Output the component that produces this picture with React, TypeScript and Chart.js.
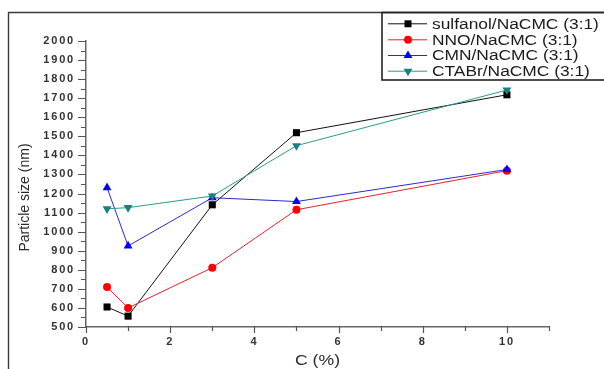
import React, { useEffect, useRef } from 'react';
import { Chart, registerables } from 'chart.js';

Chart.register(...registerables);

// ---- data ----
const concentrations = [0.5, 1, 3, 5, 10];
const sulfanolValues = [605, 557, 1141, 1519, 1718];
const nnoValues = [710, 600, 811, 1115, 1320];
const cmnValues = [1231, 925, 1178, 1158, 1326];
const ctabrValues = [1120, 1126, 1187, 1451, 1743];

const seriesNames = [
  'sulfanol/NaCMC (3:1)',
  'NNO/NaCMC (3:1)',
  'CMN/NaCMC (3:1)',
  'CTABr/NaCMC (3:1)',
];
const seriesColors = ['#000000', '#ff0000', '#0000ff', '#16827a'];
const lineColors = ['#111111', '#e8202a', '#2a2acc', '#2a9a90'];
const seriesMarkers = ['square', 'circle', 'triUp', 'triDown'];

const xTickLabels = [0, 2, 4, 6, 8, 10];
const yTickLabels = [500, 600, 700, 800, 900, 1000, 1100, 1200, 1300, 1400, 1500, 1600, 1700, 1800, 1900, 2000];
const xTitle = 'C (%)';
const yTitle = 'Particle size (nm)';

const FONT = '"Liberation Sans", Arial, Helvetica, sans-serif';

function drawMarker(ctx: CanvasRenderingContext2D, kind: string, x: number, y: number, color: string) {
  ctx.fillStyle = color;
  ctx.beginPath();
  if (kind === 'square') {
    ctx.rect(x - 3.5, y - 3.5, 7, 7);
  } else if (kind === 'circle') {
    ctx.arc(x, y, 4, 0, Math.PI * 2);
  } else if (kind === 'triUp') {
    const r = 5.1;
    ctx.moveTo(x, y - r);
    ctx.lineTo(x + r * 0.866, y + r * 0.5);
    ctx.lineTo(x - r * 0.866, y + r * 0.5);
    ctx.closePath();
  } else {
    const r = 5.1;
    ctx.moveTo(x, y + r);
    ctx.lineTo(x + r * 0.866, y - r * 0.5);
    ctx.lineTo(x - r * 0.866, y - r * 0.5);
    ctx.closePath();
  }
  ctx.fill();
}

const decorPlugin = {
  id: 'decor',
  beforeDraw(chart: any) {
    (chart.ctx as any).letterSpacing = '1.8px';
  },
  afterDraw(chart: any) {
    const ctx: CanvasRenderingContext2D = chart.ctx;
    (ctx as any).letterSpacing = '0px';
    const xs = chart.scales.x;
    const ys = chart.scales.y;
    const axisX = ys.right;
    const axisY = xs.top;

    ctx.save();
    // tick marks
    ctx.strokeStyle = '#555';
    ctx.lineWidth = 1.2;
    ctx.beginPath();
    for (let v = 500; v <= 2000; v += 50) {
      const py = Math.round(ys.getPixelForValue(v)) + 0.5;
      const len = v % 100 === 0 ? 8 : 5;
      ctx.moveTo(axisX - len, py);
      ctx.lineTo(axisX, py);
    }
    for (let v = 0; v <= 11; v += 1) {
      const px = Math.round(xs.getPixelForValue(v)) + 0.5;
      const len = xTickLabels.includes(v) ? 6 : 4;
      ctx.moveTo(px, axisY - 1);
      ctx.lineTo(px, axisY + len);
    }
    ctx.stroke();

    // axis titles
    ctx.fillStyle = '#2a2a2a';
    ctx.font = `14px ${FONT}`;
    ctx.textAlign = 'center';
    ctx.textBaseline = 'alphabetic';
    ctx.save();
    ctx.translate((xs.left + xs.right) / 2, 365);
    ctx.scale(1.26, 1);
    ctx.fillText(xTitle, 0, 0);
    ctx.restore();

    ctx.save();
    ctx.translate(29, 197.5);
    ctx.rotate(-Math.PI / 2);
    ctx.fillText(yTitle, 0, 0);
    ctx.restore();

    // outer frame
    ctx.strokeStyle = '#3a3a3a';
    ctx.lineWidth = 1.4;
    ctx.beginPath();
    ctx.moveTo(8.5, 369);
    ctx.lineTo(8.5, 12.5);
    ctx.lineTo(604, 12.5);
    ctx.stroke();

    // legend box
    ctx.strokeStyle = '#222';
    ctx.lineWidth = 1.6;
    ctx.strokeRect(382, 12.5, 240, 67.5);

    const rowY = [23.3, 39.3, 55, 70.7];
    seriesNames.forEach((name, i) => {
      const y = rowY[i];
      ctx.strokeStyle = lineColors[i];
      ctx.lineWidth = 1;
      ctx.beginPath();
      ctx.moveTo(388, y + 0.5);
      ctx.lineTo(427, y + 0.5);
      ctx.stroke();
      drawMarker(ctx, seriesMarkers[i], 408, y + 0.5, seriesColors[i]);
      ctx.fillStyle = '#1a1a1a';
      ctx.font = `14px ${FONT}`;
      ctx.textAlign = 'left';
      ctx.textBaseline = 'alphabetic';
      ctx.save();
      ctx.translate(432, y + 5.3);
      ctx.scale(1.24, 1);
      ctx.fillText(name, 0, 0);
      ctx.restore();
    });
    ctx.restore();
  },
};

function toPoints(values: number[]) {
  return concentrations.map((c, i) => ({ x: c, y: values[i] }));
}

export default function App() {
  const canvasRef = useRef<HTMLCanvasElement | null>(null);

  useEffect(() => {
    if (!canvasRef.current) return;
    const valueSets = [sulfanolValues, nnoValues, cmnValues, ctabrValues];
    const pointStyles = ['rect', 'circle', 'triangle', 'triangle'];
    const pointRadii = [5, 4, 5.1, 5.1];
    const rotations = [0, 0, 0, 180];

    const chart = new Chart(canvasRef.current, {
      type: 'line',
      data: {
        datasets: valueSets.map((vals, i) => ({
          label: seriesNames[i],
          data: toPoints(vals),
          borderColor: lineColors[i],
          backgroundColor: seriesColors[i],
          borderWidth: 1,
          pointStyle: pointStyles[i] as any,
          pointRadius: pointRadii[i],
          pointRotation: rotations[i],
          pointBackgroundColor: seriesColors[i],
          pointBorderColor: seriesColors[i],
          pointBorderWidth: 0,
          tension: 0,
          fill: false,
          order: 4 - i,
        })),
      },
      options: {
        animation: false,
        responsive: true,
        maintainAspectRatio: false,
        layout: { padding: { top: 41, right: 55, left: 0, bottom: 0 } },
        plugins: {
          legend: { display: false },
          tooltip: { enabled: false },
          title: { display: false },
        },
        scales: {
          x: {
            type: 'linear',
            min: 0,
            max: 11,
            afterFit: (s: any) => {
              s.height = 42;
            },
            afterBuildTicks: (s: any) => {
              const t = [];
              for (let v = 0; v <= 11; v++) t.push({ value: v });
              s.ticks = t;
            },
            ticks: {
              autoSkip: false,
              maxRotation: 0,
              padding: 2,
              color: '#333',
              font: { family: FONT, size: 11, weight: 'bold' },
              callback: (v: any) => (xTickLabels.includes(Number(v)) ? String(v) : ''),
            },
            grid: {
              display: true,
              drawOnChartArea: false,
              drawTicks: true,
              tickLength: 6,
              color: 'rgba(0,0,0,0)',
            },
            border: { display: true, color: '#666', width: 1.5 },
          },
          y: {
            type: 'linear',
            min: 500,
            max: 2000,
            afterFit: (s: any) => {
              s.width = 86;
            },
            afterBuildTicks: (s: any) => {
              const t = [];
              for (let v = 500; v <= 2000; v += 50) t.push({ value: v });
              s.ticks = t;
            },
            ticks: {
              autoSkip: false,
              padding: 3,
              color: '#333',
              font: { family: FONT, size: 11, weight: 'bold' },
              callback: (v: any) => (yTickLabels.includes(Number(v)) ? String(v) : ''),
            },
            grid: {
              display: true,
              drawOnChartArea: false,
              drawTicks: true,
              tickLength: 8,
              color: 'rgba(0,0,0,0)',
            },
            border: { display: true, color: '#666', width: 1.5 },
          },
        },
      },
      plugins: [decorPlugin],
    });
    return () => chart.destroy();
  }, []);

  return (
    <div style={{ position: 'absolute', left: 0, top: 0, width: 604, height: 369, background: '#fff' }}>
      <canvas ref={canvasRef} />
    </div>
  );
}
